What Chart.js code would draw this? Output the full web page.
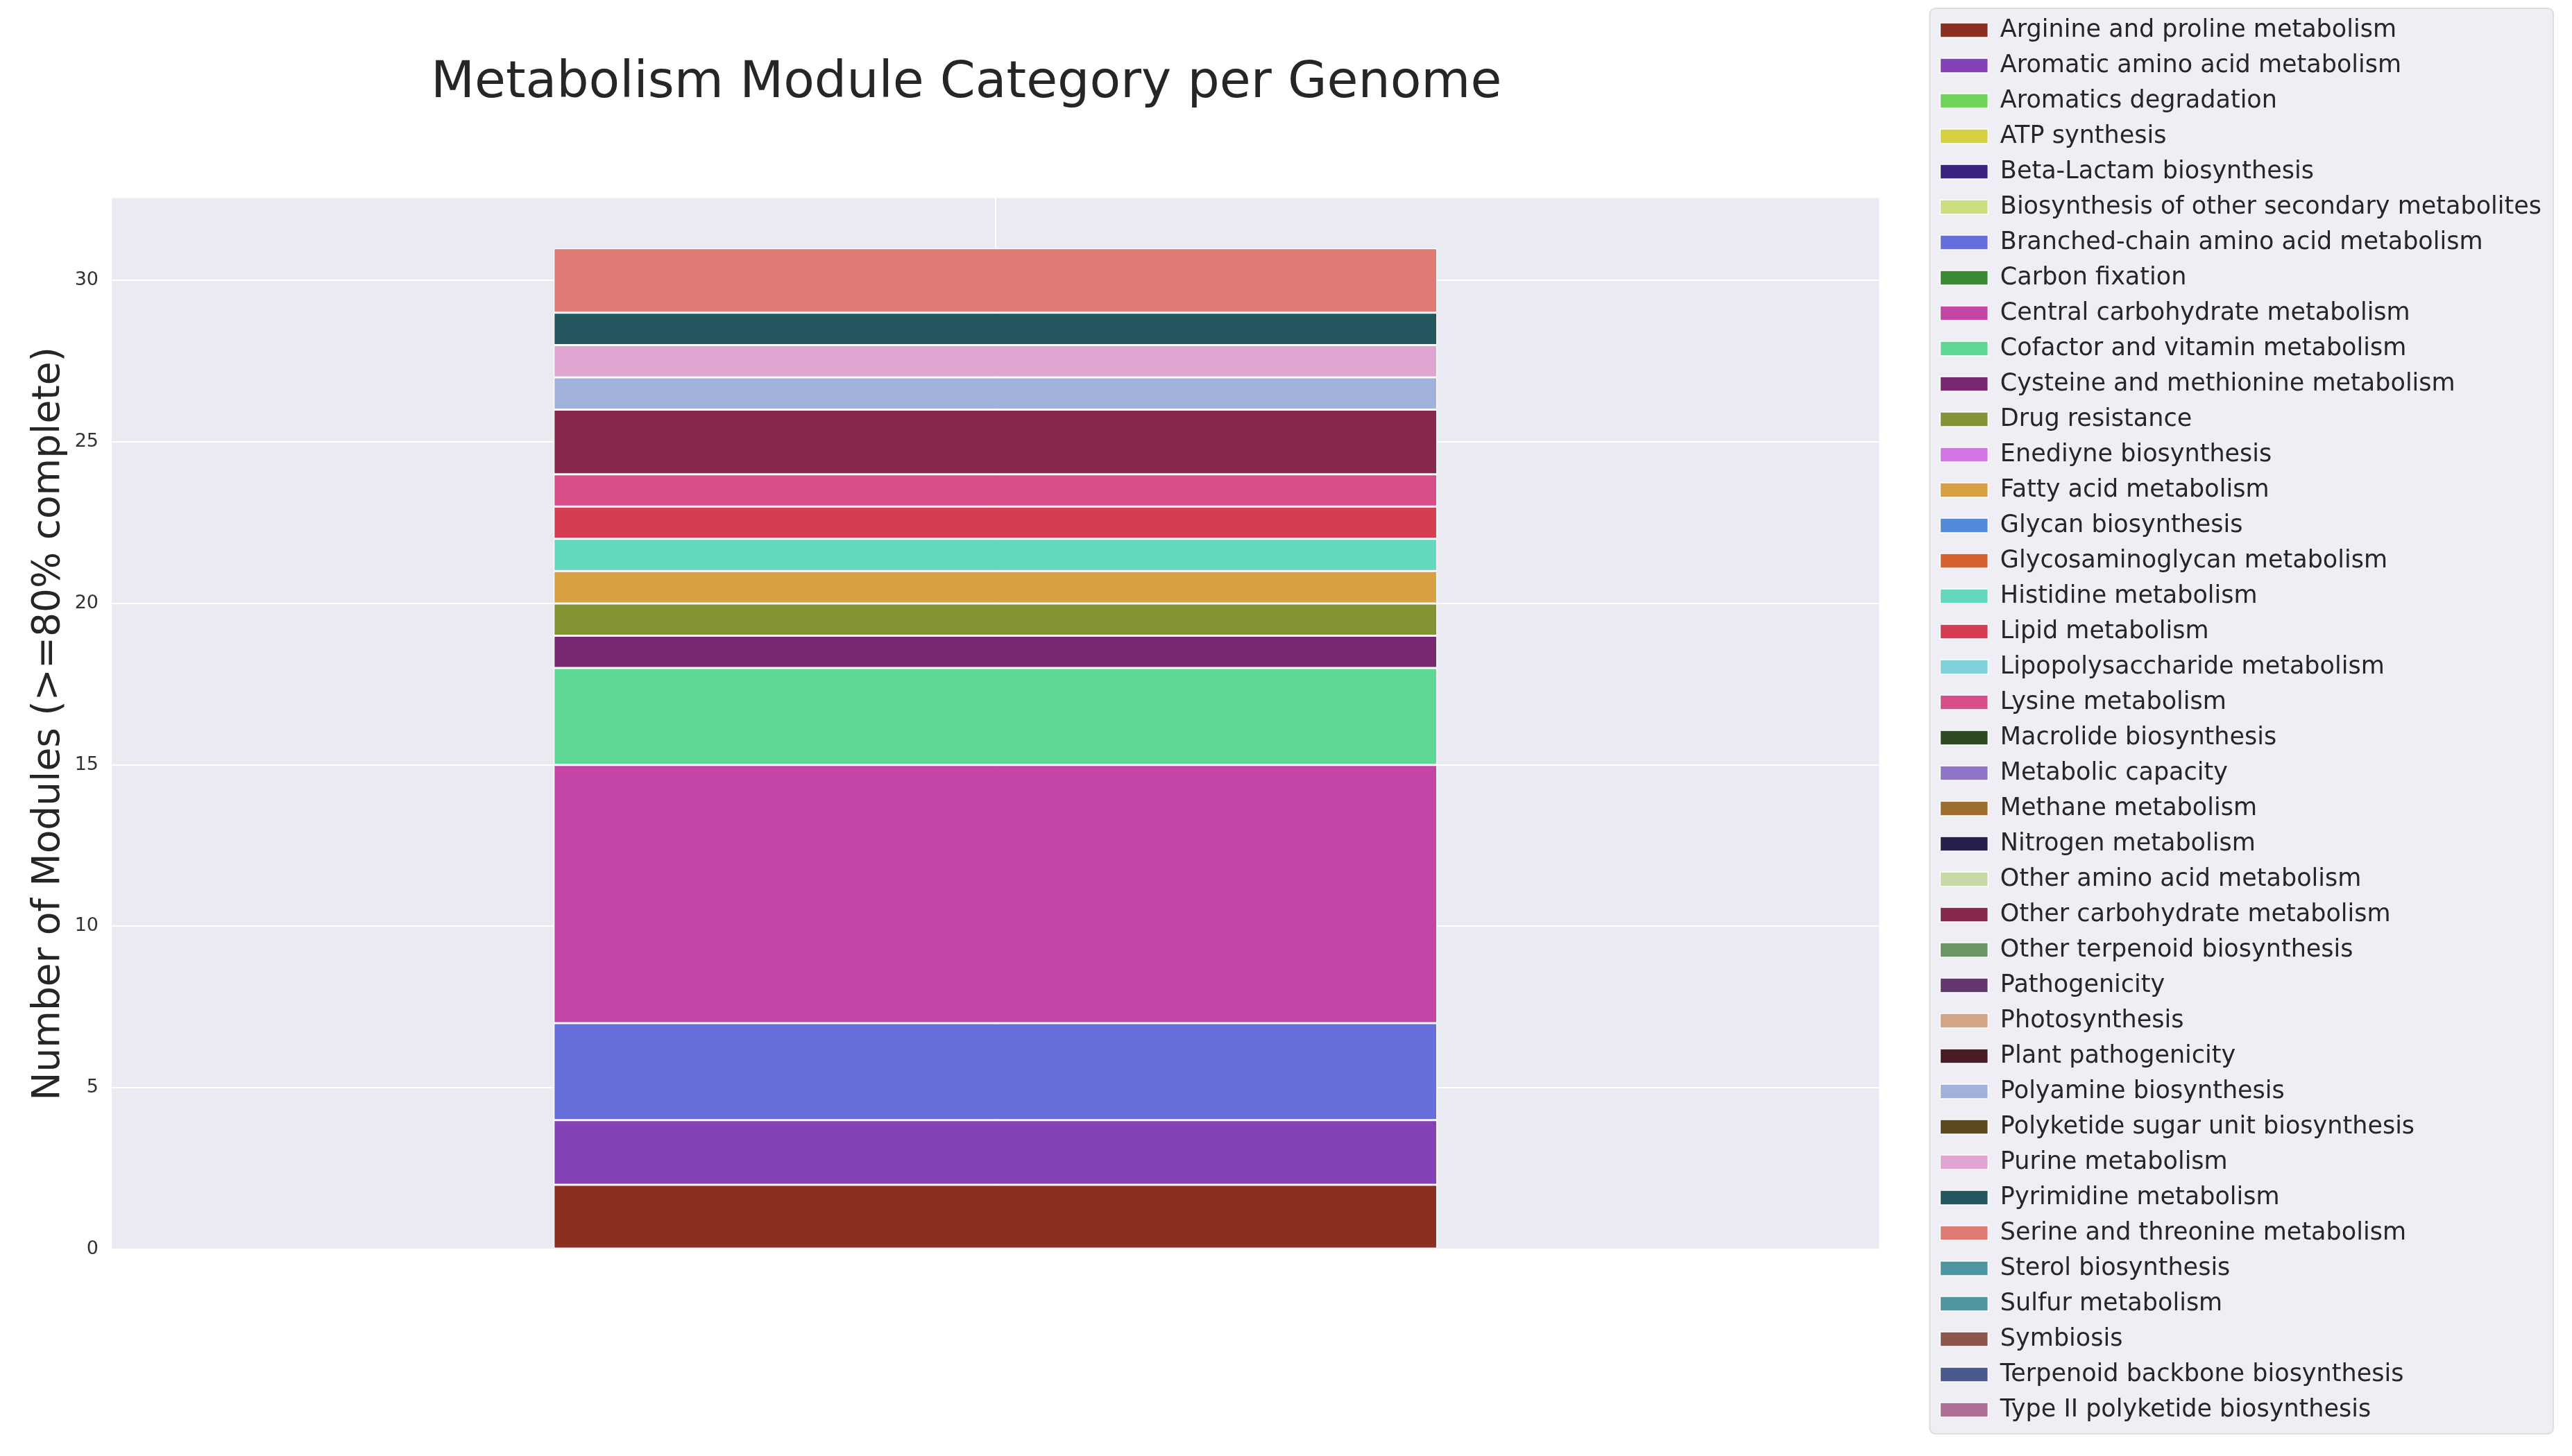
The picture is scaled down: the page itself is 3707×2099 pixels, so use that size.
<!DOCTYPE html>
<html>
<head>
<meta charset="utf-8">
<title>Metabolism Module Category per Genome</title>
<script src="https://cdn.jsdelivr.net/npm/chart.js@4"></script>
<style>
  html, body { margin: 0; padding: 0; background: #ffffff; }
  #wrap { width: 3707px; height: 2099px; position: relative; }
</style>
</head>
<body>
<div id="wrap"><canvas id="myChart"></canvas></div>
<script>
// one genome, stacked by module category
const genomes = ['Genome'];

const categories = [
  'Arginine and proline metabolism', 'Aromatic amino acid metabolism', 'Aromatics degradation',
  'ATP synthesis', 'Beta-Lactam biosynthesis', 'Biosynthesis of other secondary metabolites',
  'Branched-chain amino acid metabolism', 'Carbon fixation', 'Central carbohydrate metabolism',
  'Cofactor and vitamin metabolism', 'Cysteine and methionine metabolism', 'Drug resistance',
  'Enediyne biosynthesis', 'Fatty acid metabolism', 'Glycan biosynthesis',
  'Glycosaminoglycan metabolism', 'Histidine metabolism', 'Lipid metabolism',
  'Lipopolysaccharide metabolism', 'Lysine metabolism', 'Macrolide biosynthesis',
  'Metabolic capacity', 'Methane metabolism', 'Nitrogen metabolism',
  'Other amino acid metabolism', 'Other carbohydrate metabolism', 'Other terpenoid biosynthesis',
  'Pathogenicity', 'Photosynthesis', 'Plant pathogenicity',
  'Polyamine biosynthesis', 'Polyketide sugar unit biosynthesis', 'Purine metabolism',
  'Pyrimidine metabolism', 'Serine and threonine metabolism', 'Sterol biosynthesis',
  'Sulfur metabolism', 'Symbiosis', 'Terpenoid backbone biosynthesis',
  'Type II polyketide biosynthesis'
];

// modules per category (same order as categories)
const moduleCounts = [
  2, 2, 0, 0, 0, 0, 3, 0, 8, 3,
  1, 1, 0, 1, 0, 0, 1, 1, 0, 1,
  0, 0, 0, 0, 0, 2, 0, 0, 0, 0,
  1, 0, 1, 1, 2, 0, 0, 0, 0, 0
];

const colors = [
  '#8b2f21', '#8542b6', '#72d35a', '#d3d13f', '#3a2381', '#ccdf7f',
  '#656edb', '#3a8a33', '#c445a5', '#5dd995', '#782771', '#849334',
  '#cf76e0', '#d9a041', '#5289d9', '#d6632f', '#62d9be', '#d43d52',
  '#7fd1db', '#d84e8a', '#2e4a24', '#8f74c8', '#9c6d2e', '#261f4d',
  '#c5daa5', '#89284d', '#6a9565', '#64386f', '#d2a589', '#4a1a25',
  '#a2b0dc', '#5a4a1e', '#e0a5d0', '#23575d', '#de7b74', '#4e96a1',
  '#4e96a1', '#8b574d', '#4b5a8c', '#ad6f96'
];

const yTicks = [0, 5, 10, 15, 20, 25, 30];

// seaborn style backgrounds: axes face + legend frame
const backdrop = {
  id: 'backdrop',
  afterLayout(chart) {
    // title sits a little left of the axes centre in the original
    const t = chart.titleBlock;
    if (t) { t.left -= 42; t.right -= 42; }
  },
  beforeDraw(chart) {
    const {ctx, chartArea, legend} = chart;
    ctx.save();
    ctx.fillStyle = '#ffffff';
    ctx.fillRect(0, 0, chart.width, chart.height);
    ctx.fillStyle = '#eaeaf2';
    ctx.fillRect(chartArea.left, chartArea.top, chartArea.right - chartArea.left, chartArea.bottom - chartArea.top);

    const boxes = legend.legendHitBoxes || [];
    if (boxes.length) {
      let l = Infinity, t = Infinity, r = -Infinity, b = -Infinity;
      boxes.forEach(h => {
        l = Math.min(l, h.left); t = Math.min(t, h.top);
        r = Math.max(r, h.left + h.width); b = Math.max(b, h.top + h.height);
      });
      l -= 15; t -= 14; r += 17; b += 17;
      ctx.beginPath();
      ctx.roundRect(l, t, r - l, b - t, 8);
      ctx.fillStyle = '#eeeef4';
      ctx.fill();
      ctx.strokeStyle = '#dcdce2';
      ctx.lineWidth = 2;
      ctx.stroke();
    }
    ctx.restore();
  }
};

const datasets = categories.map((name, i) => ({
  label: name,
  data: [moduleCounts[i]],
  backgroundColor: colors[i],
  borderColor: '#ffffff',
  borderWidth: 1.5,
  borderSkipped: false,
  barPercentage: 0.5,
  categoryPercentage: 1.0
}));

const ctx = document.querySelector('#myChart').getContext('2d');
const chart = new Chart(ctx, {
  type: 'bar',
  data: { labels: genomes, datasets },
  plugins: [backdrop],
  options: {
    responsive: true,
    maintainAspectRatio: false,
    animation: false,
    layout: { padding: { top: 10, right: 34, bottom: 0, left: 0 } },
    plugins: {
      tooltip: { enabled: false },
      title: {
        display: true,
        text: 'Metabolism Module Category per Genome',
        fullSize: false,
        color: '#262626',
        font: { family: 'DejaVu Sans', size: 73, weight: 'normal' },
        padding: { top: 67, bottom: 121 }
      },
      legend: {
        position: 'right',
        align: 'start',
        labels: {
          color: '#262626',
          font: { family: 'DejaVu Sans', size: 35 },
          boxWidth: 69,
          boxHeight: 21,
          padding: 16
        }
      }
    },
    scales: {
      x: {
        stacked: true,
        grid: { display: true, offset: false, color: '#ffffff', lineWidth: 2, drawTicks: false },
        border: { display: false },
        ticks: { display: false },
        afterFit(scale) { scale.height = 298; }
      },
      y: {
        stacked: true,
        min: 0,
        max: 32.55,
        afterBuildTicks(scale) { scale.ticks = yTicks.map(v => ({ value: v })); },
        grid: { color: '#ffffff', lineWidth: 2, drawTicks: false },
        border: { display: false },
        ticks: {
          color: '#333333',
          padding: 19,
          font: { family: 'DejaVu Sans', size: 27 }
        },
        title: {
          display: true,
          text: 'Number of Modules (>=80% complete)',
          color: '#262626',
          font: { family: 'DejaVu Sans', size: 55 },
          padding: { top: 38, bottom: 0 }
        },
        afterFit(scale) { scale.width = 161; }
      },
      // hidden spacer between plot and legend (display:false keeps legend max width)
      gap: {
        position: 'right',
        display: false,
        afterFit(scale) { scale.width = 72; }
      }
    }
  }
});
</script>
</body>
</html>
